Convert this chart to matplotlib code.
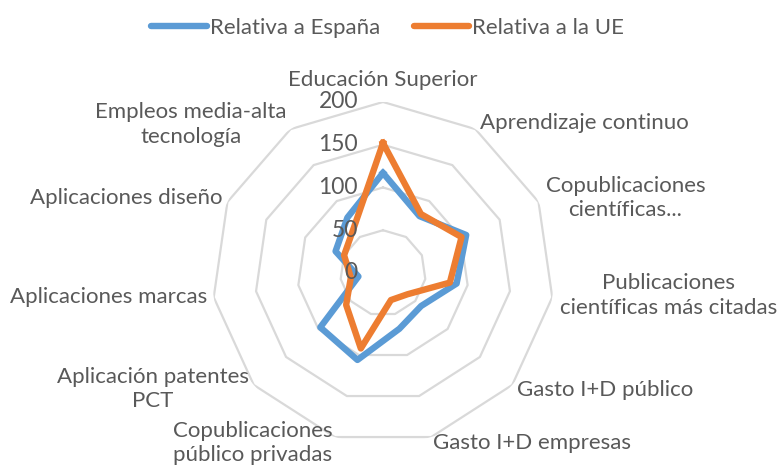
import matplotlib.pyplot as plt
import numpy as np

plt.rcParams['font.family'] = ['Lato', 'DejaVu Sans']

# categorias (en sentido horario desde arriba)
categorias = ["Educación Superior", "Aprendizaje continuo", "Copublicaciones\ncientíficas...",
              "Publicaciones\ncientíficas más citadas", "Gasto I+D público", "Gasto I+D empresas",
              "Copublicaciones\npúblico privadas", "Aplicación patentes\nPCT", "Aplicaciones marcas",
              "Aplicaciones diseño", "Empleos media-alta\ntecnología"]
espana = [117, 79, 107, 87, 59, 68, 106, 97, 29, 61, 77]
ue = [152, 82, 101, 79, 38, 33, 92, 57, 38, 50, 63]
anillos = [0, 50, 100, 150, 200]

gris = '#595959'
azul = '#5B9BD5'
naranja = '#ED7D31'

n = len(categorias)
theta = np.arange(n) * 2 * np.pi / n
theta_c = np.append(theta, theta[0])

fig = plt.figure(figsize=(7.77, 4.65), dpi=100)
ax = fig.add_axes([0.2728, 0.0452, 0.4402, 0.7355], projection='polar')
ax.set_theta_offset(np.pi / 2)
ax.set_theta_direction(-1)
ax.set_ylim(0, 200)
ax.grid(False)
ax.spines['polar'].set_visible(False)
ax.set_xticks([])
ax.set_yticks([])
ax.patch.set_alpha(0)

# anillos poligonales
for r in anillos[1:]:
    ax.plot(theta_c, [r] * (n + 1), color='#d9d9d9', lw=1.6, zorder=1)

ax.plot(theta_c, espana + espana[:1], color=azul, lw=4.6, label='Relativa a España', zorder=3)
ax.plot(theta_c, ue + ue[:1], color=naranja, lw=4.6, label='Relativa a la UE', zorder=4)

# etiquetas del eje radial
for r in anillos:
    ax.annotate(str(r), xy=(0, r), xytext=(-25, 0), textcoords='offset pixels',
                ha='right', va='center', fontsize=16.5, color=gris, zorder=5)

# etiquetas de categorias (desplazamiento en pixeles desde el vertice exterior)
offsets = [(0, 22), (5, 6), (7, 4), (8, 2), (5, -5), (2, -6),
           (-2, -6), (-5, -4), (-6, 0), (-5, 4), (-4, 5)]
for k in range(n):
    if k == 0:
        ha = 'center'
    elif k <= 5:
        ha = 'left'
    else:
        ha = 'right'
    ax.annotate(categorias[k], xy=(theta[k], 200), xytext=offsets[k], textcoords='offset pixels',
                ha=ha, va='center', multialignment='center', fontsize=16, color=gris,
                linespacing=1.3, annotation_clip=False)

leg = fig.legend(loc='center', bbox_to_anchor=(0.499, 1 - 28 / 465), ncol=2, frameon=False,
                 fontsize=16, handlelength=2.5, handletextpad=0.15, columnspacing=1.5)
for t in leg.get_texts():
    t.set_color(gris)
for h in leg.legend_handles:
    h.set_solid_capstyle('round')

plt.savefig('out.png', dpi=100)
